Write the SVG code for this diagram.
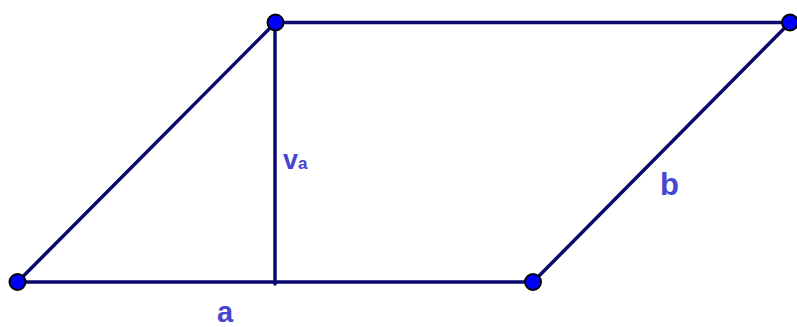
<svg xmlns="http://www.w3.org/2000/svg" width="797" height="327" viewBox="0 0 797 327">
<style>
.edge{stroke:#0a0a6e;stroke-width:3.5;fill:none;stroke-linecap:round}
.pt{fill:#0000ff;stroke:#000;stroke-width:2}
.lbl{font-family:"Liberation Sans",Arial,sans-serif;font-weight:bold;fill:#4646d2}
</style>
<rect width="797" height="327" fill="#fff"/>
<g id="connectors">
<line class="edge" x1="17.5" y1="282" x2="533" y2="282"/>
<line class="edge" x1="533" y1="282" x2="790" y2="22.5"/>
<line class="edge" x1="790" y1="22.5" x2="275.5" y2="22.5"/>
<line class="edge" x1="275.5" y1="22.5" x2="17.5" y2="282"/>
<line class="edge" x1="275" y1="22.5" x2="275" y2="284"/>
</g>
<g id="A"><circle class="pt" cx="17.5" cy="282" r="8"/></g>
<g id="B"><circle class="pt" cx="533" cy="282" r="8"/></g>
<g id="C"><circle class="pt" cx="790" cy="22.5" r="8"/></g>
<g id="D"><circle class="pt" cx="275.5" cy="22.5" r="8"/></g>
<g id="labels">
<text class="lbl" x="283" y="169" font-size="27">v<tspan font-size="17">a</tspan></text>
<text class="lbl" x="660" y="195" font-size="31">b</text>
<text class="lbl" x="217" y="322" font-size="29">a</text>
</g>
</svg>
